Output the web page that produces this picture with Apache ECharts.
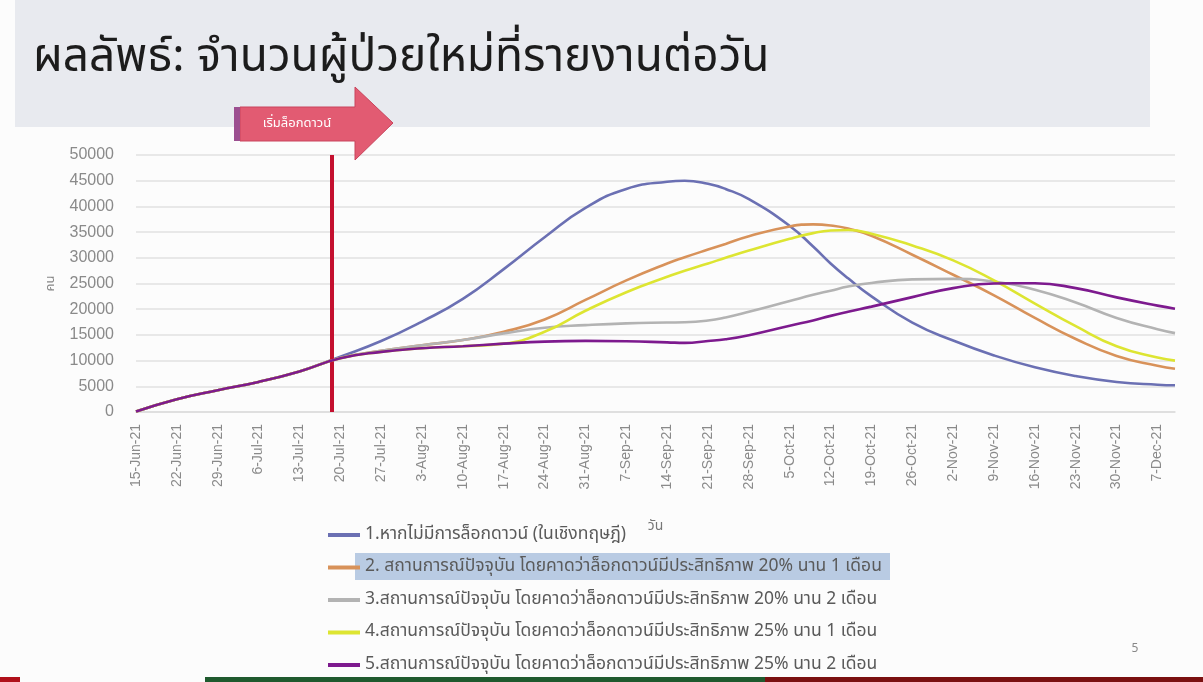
<!DOCTYPE html>
<html>
<head>
<meta charset="utf-8">
<script src="https://cdn.jsdelivr.net/npm/echarts@6/dist/echarts.min.js"></script>
<style>
html,body{margin:0;padding:0;background:#fcfcfc;}
#c{width:1203px;height:682px;}
</style>
</head>
<body>
<div id="c"></div>
<script>
// ---- data ----
const tickLabels = ['15-Jun-21','22-Jun-21','29-Jun-21','6-Jul-21','13-Jul-21','20-Jul-21','27-Jul-21','3-Aug-21','10-Aug-21','17-Aug-21','24-Aug-21','31-Aug-21','7-Sep-21','14-Sep-21','21-Sep-21','28-Sep-21','5-Oct-21','12-Oct-21','19-Oct-21','26-Oct-21','2-Nov-21','9-Nov-21','16-Nov-21','23-Nov-21','30-Nov-21','7-Dec-21'];
// days since 15-Jun-21
const days = [0,7,14,21,28,35,42,49,56,63,70,77,84,91,94,98,101,105,112,116,119,122,126,133,140,147,154,161,168,175,178];
const noLockdown = [100,2500,4250,5850,7900,10750,13800,17600,22000,27800,34000,39700,43400,44800,45000,44400,43400,41400,36200,32200,28900,26000,22500,17400,13900,11000,8700,7000,5850,5300,5200];
const eff20m1 = [100,2500,4250,5850,7900,10500,11900,13000,14000,15600,18000,21800,25600,28900,30100,31600,32700,34200,36100,36500,36300,35700,34300,30600,26700,22700,18300,14200,10900,9000,8400];
const eff20m2 = [100,2500,4250,5850,7900,10500,11900,13000,14000,15300,16400,16900,17250,17400,17450,17800,18400,19500,21600,22800,23600,24400,25100,25800,25900,25400,23800,21300,18300,16100,15350];
const eff25m1 = [100,2500,4250,5850,7900,10450,11700,12400,12800,13300,15600,19700,23300,26300,27500,28900,30000,31400,33700,34800,35300,35400,34700,32400,29500,25600,21100,16700,12800,10600,10000];
const eff25m2 = [100,2500,4250,5850,7900,10450,11700,12400,12800,13300,13700,13830,13770,13550,13440,13800,14150,14950,16800,17800,18700,19500,20500,22350,24100,25000,25050,24100,22300,20700,20100];
const lockdownDay = 33.5;
const seriesNames = [
  '1.หากไม่มีการล็อกดาวน์ (ในเชิงทฤษฎี)',
  '2. สถานการณ์ปัจจุบัน โดยคาดว่าล็อกดาวน์มีประสิทธิภาพ 20% นาน 1 เดือน',
  '3.สถานการณ์ปัจจุบัน โดยคาดว่าล็อกดาวน์มีประสิทธิภาพ 20% นาน 2 เดือน',
  '4.สถานการณ์ปัจจุบัน โดยคาดว่าล็อกดาวน์มีประสิทธิภาพ 25% นาน 1 เดือน',
  '5.สถานการณ์ปัจจุบัน โดยคาดว่าล็อกดาวน์มีประสิทธิภาพ 25% นาน 2 เดือน'
];
const seriesValues = [noLockdown, eff20m1, eff20m2, eff25m1, eff25m2];
const colors = ['#6b70b3','#d8925a','#b3b3b3','#dde532','#7d1a8e'];

const FONT = "'Noto Sans Thai','Noto Sans',sans-serif";
const chart = echarts.init(document.getElementById('c'), null, {renderer:'canvas'});

const series = seriesValues.map((vals, i) => ({
  name: seriesNames[i],
  type: 'line',
  data: days.map((d, k) => [d, vals[k]]),
  smooth: true,
  symbol: 'none',
  lineStyle: {width: 2.6, color: colors[i]},
  itemStyle: {color: colors[i]},
  z: 2 + i
}));
series[4].markLine = {
  silent: true,
  symbol: ['none','none'],
  label: {show: false},
  lineStyle: {color: '#c4102f', width: 4, type: 'solid'},
  data: [{xAxis: lockdownDay}]
};

chart.setOption({
  backgroundColor: '#fcfcfc',
  animation: false,
  textStyle: {fontFamily: FONT},
  title: {
    text: 'ผลลัพธ์: จำนวนผู้ป่วยใหม่ที่รายงานต่อวัน',
    left: 28, top: 34,
    textStyle: {fontSize: 46, fontWeight: 'normal', color: '#1c1c1c', fontFamily: FONT}
  },
  grid: {left: 136, right: 28, top: 155, bottom: 270},
  xAxis: {
    type: 'value', min: 0, max: 178, interval: 7,
    name: 'วัน', nameLocation: 'middle', nameGap: 108,
    nameTextStyle: {color: '#777', fontSize: 14},
    axisLine: {show: true, lineStyle: {color: '#dcdcdc', width: 1.5}},
    axisTick: {show: false},
    splitLine: {show: false},
    axisLabel: {
      rotate: 90, margin: 12, color: '#8a8a8a', fontSize: 14, fontFamily: 'Liberation Sans',
      showMaxLabel: false,
      formatter: v => (v % 7 === 0 && tickLabels[v / 7]) ? tickLabels[v / 7] : ''
    }
  },
  yAxis: {
    type: 'value', min: 0, max: 50000, interval: 5000,
    name: 'คน', nameLocation: 'middle', nameGap: 78, nameRotate: 90,
    nameTextStyle: {color: '#888', fontSize: 13},
    axisLine: {show: false}, axisTick: {show: false},
    splitLine: {lineStyle: {color: '#e2e2e2', width: 1.5}},
    axisLabel: {color: '#8a8a8a', fontSize: 16, margin: 22, fontFamily: 'Liberation Sans', formatter: v => String(v)}
  },
  legend: {
    orient: 'vertical', left: 323, top: 520,
    itemWidth: 32, itemHeight: 4, icon: 'rect', itemGap: 12.5,
    textStyle: {color: '#5a5a5a', fontSize: 17.5, lineHeight: 20, fontFamily: FONT},
    data: seriesNames
  },
  graphic: [
    {type: 'rect', z: -10, shape: {x: 15, y: 0, width: 1135, height: 127}, style: {fill: '#e8eaef'}},
    {type: 'polygon', z: 10, shape: {points: [[240,107],[355,107],[355,87],[393,123],[355,160],[355,141],[240,141]]},
      style: {fill: '#e25b72', stroke: '#c9445c', lineWidth: 1}},
    {type: 'rect', z: 11, shape: {x: 234, y: 107, width: 6, height: 34}, style: {fill: '#9c4f90'}},
    {type: 'text', z: 12, x: 297, y: 124, style: {text: 'เริ่มล็อกดาวน์', fill: '#ffffff', fontSize: 13, fontFamily: FONT, align: 'center', verticalAlign: 'middle'}},
    {type: 'rect', z: 0, shape: {x: 355, y: 553, width: 535, height: 27}, style: {fill: '#b9cbe3'}},
    {type: 'text', z: 5, x: 1135, y: 650, style: {text: '5', fill: '#888', fontSize: 12, fontFamily: FONT, align: 'center', verticalAlign: 'middle'}},
    {type: 'rect', z: 5, shape: {x: 0, y: 677, width: 20, height: 5}, style: {fill: '#b0101a'}},
    {type: 'rect', z: 5, shape: {x: 205, y: 677, width: 560, height: 5}, style: {fill: '#1f5a2e'}},
    {type: 'rect', z: 5, shape: {x: 765, y: 677, width: 438, height: 5}, style: {fill: '#7a1010'}}
  ],
  series: series
});
</script>
</body>
</html>
